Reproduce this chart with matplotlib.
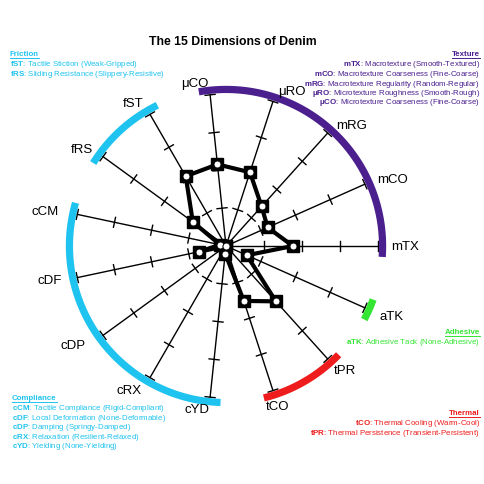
import numpy as np
import matplotlib.pyplot as plt
from matplotlib.lines import Line2D

plt.rcParams['font.family'] = ['Liberation Sans', 'DejaVu Sans']
plt.rcParams['mathtext.fontset'] = 'custom'
plt.rcParams['mathtext.rm'] = 'Liberation Sans'
plt.rcParams['mathtext.bf'] = 'Liberation Sans:bold'

# dimensions, counter-clockwise starting at the right
dims = ["mTX", "mCO", "mRG", "μRO", "μCO", "fST", "fRS", "cCM",
        "cDF", "cDP", "cRX", "cYD", "tCO", "tPR", "aTK"]
scores = [0.44, 0.30, 0.35, 0.51, 0.54, 0.53, 0.27, 0.04,
          0.18, 0.0, 0.0, 0.05, 0.38, 0.49, 0.15]
ticks = [0.25, 0.5, 0.75, 1.0]

groups = ["Texture", "Friction", "Compliance", "Thermal", "Adhesive"]
group_colors = ["#4b1f8e", "#1fc3ef", "#1fc3ef", "#ee1c1c", "#34e534"]
group_members = [["mTX", "mCO", "mRG", "μRO", "μCO"],
                 ["fST", "fRS"],
                 ["cCM", "cDF", "cDP", "cRX", "cYD"],
                 ["tCO", "tPR"],
                 ["aTK"]]
group_desc = [["Macrotexture (Smooth-Textured)",
               "Macrotexture Coarseness (Fine-Coarse)",
               "Macrotexture Regularity (Random-Regular)",
               "Microtexture Roughness (Smooth-Rough)",
               "Microtexture Coarseness (Fine-Coarse)"],
              ["Tactile Stiction (Weak-Gripped)",
               "Sliding Resistance (Slippery-Resistive)"],
              ["Tactile Compliance (Rigid-Compliant)",
               "Local Deformation (None-Deformable)",
               "Damping (Springy-Damped)",
               "Relaxation (Resilient-Relaxed)",
               "Yielding (None-Yielding)"],
              ["Thermal Cooling (Warm-Cool)",
               "Thermal Persistence (Transient-Persistent)"],
              ["Adhesive Tack (None-Adhesive)"]]

# where the legend blocks sit (pixels from top-left) and how they align
legend_pos = {"Texture": (480, 55, "right"), "Friction": (10, 55, "left"),
              "Compliance": (12, 399, "left"), "Thermal": (480, 414, "right"),
              "Adhesive": (480, 333, "right")}

# label placement (radius, angle in degrees)
label_r = [1.18, 1.18, 1.15, 1.11, 1.09, 1.12, 1.14, 1.21,
           1.18, 1.20, 1.14, 1.09, 1.105, 1.13, 1.18]
label_a = [0, 22, 44, 67, 101, 123, 146, 169,
           191, 213, 236, 260, 288, 314, 337]

W = H = 485
cx, cy, R = 226, 247, 152

fig = plt.figure(figsize=(W / 100, H / 100), dpi=100)
ax = fig.add_axes([0, 0, 1, 1])
ax.set_xlim(-cx / R, (W - cx) / R)
ax.set_ylim(-(H - cy) / R, cy / R)
ax.axis('off')

n = len(dims)
angles = np.deg2rad(np.arange(n) * 360.0 / n)

# spokes with cross ticks
h = 0.033
for a in angles:
    u = np.array([np.cos(a), np.sin(a)])
    p = np.array([-np.sin(a), np.cos(a)])
    ax.plot([0, u[0]], [0, u[1]], color='black', lw=1.0, zorder=2)
    for t in ticks:
        c = t * u
        ax.plot([c[0] - h * p[0], c[0] + h * p[0]], [c[1] - h * p[1], c[1] + h * p[1]],
                color='black', lw=1.0, zorder=2)

# group arcs
pad = 4
for g, col, mem in zip(groups, group_colors, group_members):
    idx = [dims.index(m) for m in mem]
    a0 = np.rad2deg(angles[idx[0]]) - pad
    a1 = np.rad2deg(angles[idx[-1]]) + pad
    th = np.deg2rad(np.linspace(a0, a1, 100))
    ax.plot(1.03 * np.cos(th), 1.03 * np.sin(th), color=col, lw=5.2,
            solid_capstyle='butt', zorder=3)

# axis labels
for d, r, a in zip(dims, label_r, label_a):
    ax.text(r * np.cos(np.deg2rad(a)), r * np.sin(np.deg2rad(a)), d,
            ha='center', va='center', fontsize=9.5)

# data polygon
sc = np.array(scores)
xs = sc * np.cos(angles)
ys = sc * np.sin(angles)
ax.plot(np.append(xs, xs[0]), np.append(ys, ys[0]), color='black', lw=3, zorder=4)
ax.plot(xs, ys, 's', color='black', ms=8.5, zorder=5)
ax.plot(xs, ys, 'o', mfc='white', mec='black', mew=0.6, ms=5, zorder=6)

fig.text(233 / W, 1 - 42 / H, "The 15 Dimensions of Denim", ha='center', va='center',
         fontsize=8.8, fontweight='bold')

# legend blocks
fs = 5.7
headers = []
for g, col, mem, desc in zip(groups, group_colors, group_members, group_desc):
    x, y, al = legend_pos[g]
    ht = fig.text(x / W, 1 - y / H, g, ha=al, va='center', fontsize=fs,
                  fontweight='bold', color=col)
    headers.append((ht, col))
    for i, (m, dsc) in enumerate(zip(mem, desc)):
        yy = y + 10 + 9.5 * i
        fig.text(x / W, 1 - yy / H, r"$\mathbf{" + m + "}$: " + dsc, ha=al,
                 va='center', fontsize=fs, color=col)

# underline the headers
fig.canvas.draw()
rend = fig.canvas.get_renderer()
for ht, col in headers:
    bb = ht.get_window_extent(rend)
    yl = (bb.y0 - 0.3) / H
    fig.add_artist(Line2D([bb.x0 / W, bb.x1 / W], [yl, yl], color=col, lw=0.7,
                          transform=fig.transFigure))

fig.savefig("out.png", dpi=100)
